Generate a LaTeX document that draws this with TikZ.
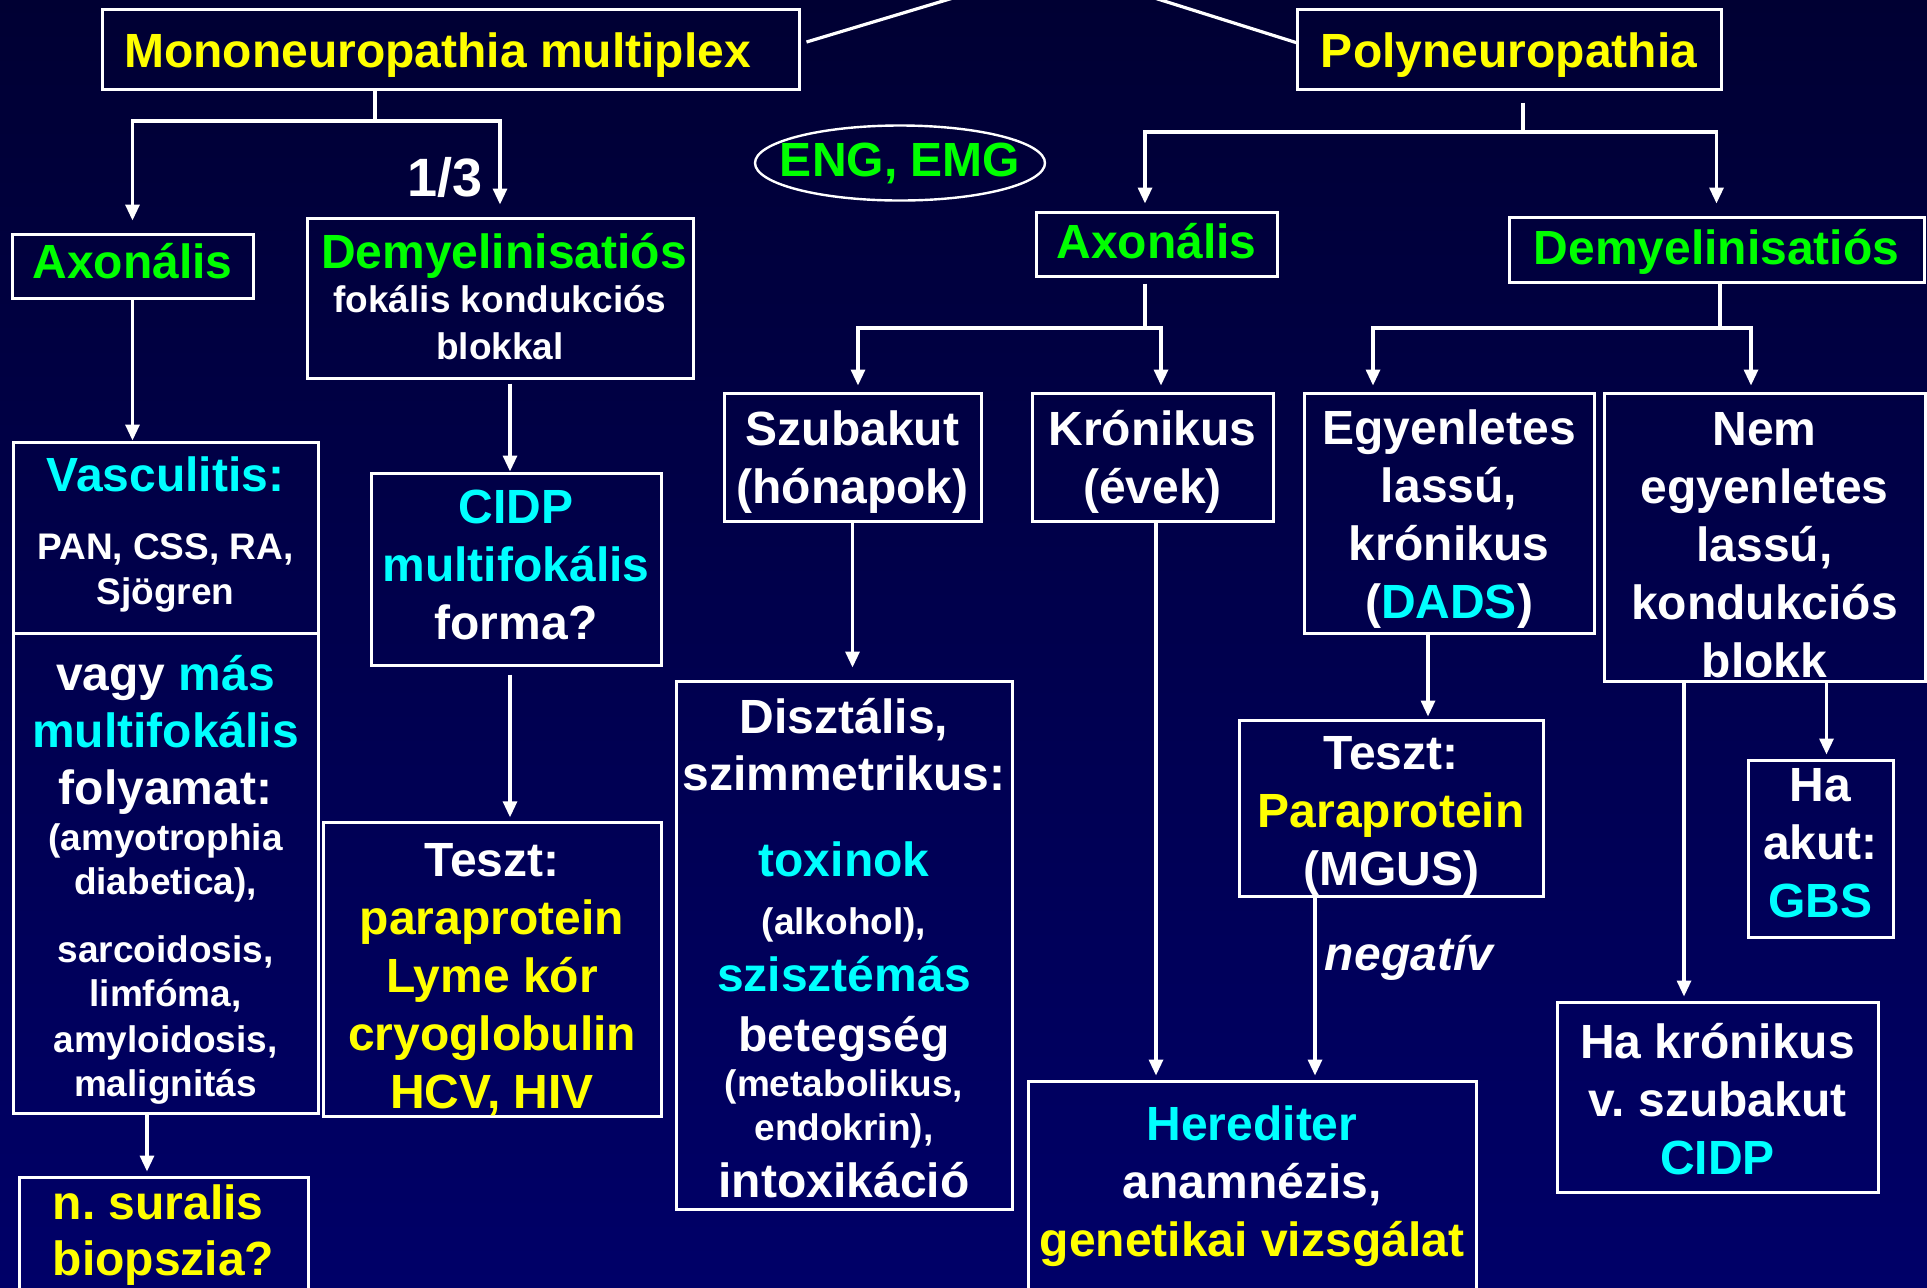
\documentclass[tikz,border=0pt]{standalone}
\usepackage{fontspec}
\setmainfont{Liberation Sans}
\usepackage{xcolor}
\usepackage{tikz}
\usetikzlibrary{arrows.meta,positioning,shapes.geometric}
\frenchspacing
\definecolor{cBgTop}{HTML}{000033}
\definecolor{cBgBot}{HTML}{000068}
\definecolor{cYel}{HTML}{FFFF00}
\definecolor{cGrn}{HTML}{00FF00}
\definecolor{cCya}{HTML}{00FFFF}
\tikzset{
  box/.style={draw=white, line width=1.5pt, inner xsep=2pt, inner ysep=0pt, align=center, text=white,
              font=\bfseries\fontsize{24}{29}\selectfont},
  hdrbox/.style={box, text=cYel},
  grnbox/.style={box, text=cGrn},
  line/.style={white, line width=1.6pt},
  arr/.style={line, -{Triangle[length=8pt,width=7pt]}, shorten >=2pt},
  lbl/.style={text=white, font=\bfseries\fontsize{24}{29}\selectfont}
}
\newcommand{\sml}[1]{{\fontsize{18.5}{22}\selectfont #1}}
\newcommand{\hlC}[1]{\textcolor{cCya}{#1}}
\newcommand{\hlY}[1]{\textcolor{cYel}{#1}}
% struts: first / last line, #1 moves the text down
\newcommand{\hiS}[1]{\rule{0pt}{\dimexpr22pt+#1\relax}}
\newcommand{\loS}[1]{\rule[\dimexpr-6pt+#1\relax]{0pt}{\dimexpr6pt-#1\relax}}

\begin{document}
\frenchspacing
\begin{tikzpicture}[x=0.5pt, y=-0.5pt]
\useasboundingbox (0,0) rectangle (1927,1287);
\shade[top color=cBgTop, bottom color=cBgBot] (0,0) rectangle (1927,1287);
% top row
\node[hdrbox, minimum width=348.5pt, minimum height=40pt] (mono) at (450.5,49) {\hiS{1.25pt}Mononeuropathia multiplex\loS{1.25pt}\hspace{13pt}};
\node[hdrbox, minimum width=212pt, minimum height=40pt] (poly) at (1509,49) {\hiS{1.25pt}Polyneuropathia\loS{1.25pt}};
\node[grnbox, ellipse, line width=1.2pt, inner xsep=-12pt, inner ysep=0pt, minimum width=145pt, minimum height=37.5pt] (eng) at (900,163) {ENG, EMG};
\coordinate (rootL) at (963,-5);
\coordinate (rootR) at (1145,-5);
\draw[line] (rootL) -- ([shift={(3pt,3.5pt)}]mono.east);
\draw[line] (rootR) -- ([shift={(1pt,3pt)}]poly.west);
% mononeuropathia multiplex branch
\node[grnbox, minimum width=120.5pt, minimum height=32pt] (axL) at (132.5,266) {\hiS{-1.8pt}Axonális\loS{-1.8pt}};
\node[box, minimum width=193pt, minimum height=80pt] (demL) at (500,298) {\hiS{0pt}\hspace{4pt}\textcolor{cGrn}{Demyelinisatiós}\\[-7pt]\sml{fokális kondukciós}\\[-5.5pt]\sml{blokkal}\loS{0pt}};
\node[box, minimum width=152.5pt, minimum height=95.5pt] (vasc) at (165.5,537.5) {\hiS{-2.75pt}\hlC{Vasculitis:}\\[5pt]\sml{PAN, CSS, RA,}\\[-6.5pt]\sml{Sjögren}\loS{-2.75pt}};
\node[box, minimum width=152.5pt, minimum height=240pt] (other) at (165.5,873) {\hiS{2.4pt}vagy \hlC{más}\\[-0.5pt]\hlC{multifokális}\\[-0.5pt]folyamat:\\[-6pt]\sml{(amyotrophia}\\[-7pt]\sml{diabetica),}\\[5pt]\sml{sarcoidosis,}\\[-7pt]\sml{limfóma,}\\[-6pt]\sml{amyloidosis,}\\[-7pt]\sml{malignitás}\loS{2.4pt}};
\node[hdrbox, align=left, minimum width=144.5pt, minimum height=61.5pt] (sural) at (163.5,1238.5) {\hiS{-3.55pt}n. suralis\\[-1pt]biopszia?\loS{-3.55pt}};
\node[box, text=cCya, minimum width=145pt, minimum height=96pt] (cidp) at (516,569) {\hiS{-1.75pt}CIDP\\multifokális\\\textcolor{white}{forma?}\loS{-1.75pt}};
\node[box, text=cYel, minimum width=169pt, minimum height=143.5pt] (tesztL) at (492,969.5) {\hiS{5pt}\textcolor{white}{Teszt:}\\paraprotein\\Lyme kór\\cryoglobulin\\HCV, HIV\loS{5pt}};
\node[lbl, font=\bfseries\fontsize{27}{32}\selectfont] (third) at (445,177) {1/3};
\coordinate (monoJ) at (375,121);
\draw[line] (mono.south -| monoJ) -- (monoJ);
\draw[arr, shorten >=6pt] (monoJ) -| (axL.north);
\draw[arr, shorten >=6pt] (monoJ) -| (demL.north);
\draw[arr, shorten >=0pt] (axL.south) -- (axL.south |- vasc.north);
\draw[arr, shorten >=0pt, shorten <=2pt] ([xshift=5pt]demL.south) -- ([xshift=5pt]demL.south |- cidp.north);
\draw[arr, shorten <=4pt] ([xshift=-3pt]cidp.south) -- ([xshift=-3pt]cidp.south |- tesztL.north);
\draw[arr] ([xshift=-9.25pt]other.south) -- ([xshift=-9.25pt]other.south |- sural.north);
% polyneuropathia branch
\node[grnbox, minimum width=120.5pt, minimum height=32pt] (axR) at (1156.5,244) {\hiS{-0.7pt}Axonális\loS{-0.7pt}};
\node[grnbox, minimum width=207.5pt, minimum height=32.5pt] (demR) at (1716.5,249.5) {\hiS{-0.6pt}Demyelinisatiós\loS{-0.6pt}};
\node[box, minimum width=128.5pt, minimum height=64pt] (szub) at (852.5,457) {\hiS{0.75pt}Szubakut\\(hónapok)\loS{0.75pt}};
\node[box, minimum width=120.5pt, minimum height=64pt] (kron) at (1152.5,457) {\hiS{0.7pt}Krónikus\\(évek)\loS{0.7pt}};
\node[box, minimum width=145pt, minimum height=120pt] (egy) at (1449,513) {\hiS{1.95pt}Egyenletes\\lassú,\\krónikus\\(\hlC{DADS})\loS{1.95pt}};
\node[box, minimum width=160.5pt, minimum height=144pt] (nem) at (1764.5,537) {\hiS{4.45pt}Nem\\egyenletes\\lassú,\\kondukciós\\blokk\loS{4.45pt}};
\node[box, minimum width=168pt, minimum height=264pt] (dist) at (844,945) {\hiS{2pt}Disztális,\\[-0.5pt]szimmetrikus:\\[14pt]\hlC{toxinok}\\[0pt]\sml{(alkohol),}\\[-0.5pt]\hlC{szisztémás}\\[1pt]betegség\\[-6.5pt]\sml{(metabolikus,}\\[-7pt]\sml{endokrin),}\\[-0.5pt]intoxikáció\loS{2pt}};
\node[box, minimum width=152pt, minimum height=88pt] (mgus) at (1391,808) {\hiS{2.55pt}Teszt:\\\hlY{Paraprotein}\\(MGUS)\loS{2.55pt}};
\node[box, minimum width=224pt, minimum height=109.5pt] (hered) at (1252,1190.5) {\hiS{-4.25pt}\hlC{Herediter}\\anamnézis,\\\hlY{genetikai vizsgálat}\loS{-4.25pt}};
\node[box, minimum width=72.5pt, minimum height=88.5pt] (akut) at (1820.5,848.5) {\hiS{-2.45pt}Ha\\akut:\\\hlC{GBS}\loS{-2.45pt}};
\node[box, minimum width=160.5pt, minimum height=95pt] (hakron) at (1717.5,1097) {\hiS{1.6pt}Ha krónikus\\v. szubakut\\\hlC{CIDP}\loS{1.6pt}};
\node[lbl, font=\bfseries\itshape\fontsize{24}{29}\selectfont] (negl) at (1409,958) {negatív};
\coordinate (polyJ) at (1523,132);
\coordinate (axRJ) at (1145,328);
\coordinate (demRJ) at (1720,328);
\draw[line, shorten <=6pt] (poly.south -| polyJ) -- (polyJ);
\draw[arr, shorten >=3.5pt] (polyJ) -| ([xshift=-5.75pt]axR.north);
\draw[arr, shorten >=6pt] (polyJ) -| (demR.north);
\draw[line, shorten <=3pt] (axR.south -| axRJ) -- (axRJ);
\draw[arr, shorten >=3pt] (axRJ) -| ([xshift=2.75pt]szub.north);
\draw[arr, shorten >=3pt] (axRJ) -| ([xshift=4.25pt]kron.north);
\draw[line] (demR.south -| demRJ) -- (demRJ);
\draw[arr, shorten >=3pt] (demRJ) -| ([xshift=-38pt]egy.north);
\draw[arr, shorten >=3pt] (demRJ) -| ([xshift=-6.75pt]nem.north);
\draw[arr, shorten >=6pt] (szub.south) -- (szub.south |- dist.north);
\draw[arr] ([xshift=1.75pt]kron.south) -- ([xshift=1.75pt]kron.south |- hered.north);
\draw[arr, shorten >=1pt] ([xshift=-10.5pt]egy.south) -- ([xshift=-10.5pt]egy.south |- mgus.north);
\draw[arr] ([xshift=-38pt]mgus.south) -- ([xshift=-38pt]mgus.south |- hered.north);
\draw[arr] ([xshift=-40.25pt]nem.south) -- ([xshift=-40.25pt]nem.south |- hakron.north);
\draw[arr] ([xshift=31pt]nem.south) -- ([xshift=31pt]nem.south |- akut.north);
\end{tikzpicture}
\end{document}
